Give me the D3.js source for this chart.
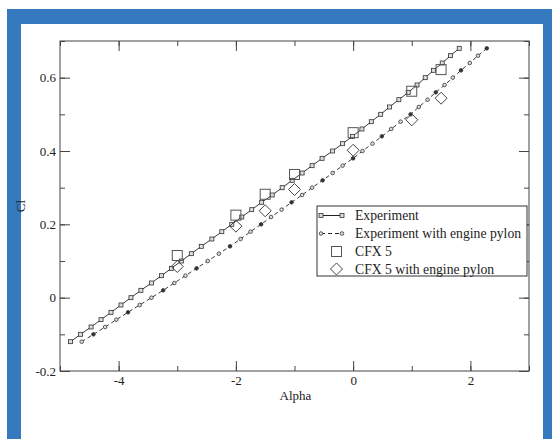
<!DOCTYPE html>
<html>
<head>
<meta charset="utf-8">
<script src="https://cdn.jsdelivr.net/npm/d3@7"></script>
<style>
  body { margin: 0; background: #fff; }
  svg text { font-family: "Liberation Serif", "Times New Roman", serif; fill: #222; }
</style>
</head>
<body>
<svg width="552" height="439"></svg>
<script>
// Experiment (clean wing): Cl read at each marker, with alpha
var expCl = [-0.12, -0.10, -0.08, -0.06, -0.04, -0.02, 0.00, 0.02, 0.04, 0.06, 0.08,
    0.10, 0.12, 0.14, 0.16, 0.18, 0.20, 0.22, 0.24, 0.26, 0.28, 0.30, 0.32, 0.34,
    0.36, 0.38, 0.40, 0.42, 0.44, 0.46, 0.48, 0.50, 0.52, 0.54, 0.56, 0.58, 0.60,
    0.62, 0.64, 0.66, 0.68];
var expAlpha = [-4.82, -4.65, -4.47, -4.30, -4.13, -3.96, -3.79, -3.62, -3.44, -3.27, -3.10,
    -2.93, -2.76, -2.59, -2.41, -2.24, -2.07, -1.90, -1.73, -1.56, -1.38, -1.21, -1.04, -0.87,
    -0.70, -0.53, -0.35, -0.18, -0.01, 0.15, 0.31, 0.47, 0.62, 0.78, 0.94, 1.09, 1.23,
    1.37, 1.52, 1.66, 1.81];

// Experiment with engine pylon
var pylCl = expCl.slice();
var pylAlpha = [-4.63, -4.43, -4.23, -4.04, -3.84, -3.64, -3.44, -3.24, -3.05, -2.86, -2.67,
    -2.48, -2.29, -2.10, -1.92, -1.75, -1.57, -1.40, -1.22, -1.05, -0.87, -0.70, -0.52, -0.35,
    -0.18, 0.00, 0.16, 0.33, 0.49, 0.65, 0.81, 0.98, 1.12, 1.27, 1.41, 1.56, 1.70,
    1.84, 1.99, 2.13, 2.28];

// CFX 5 results
var cfxAlpha = [-3, -2, -1.5, -1, 0, 1, 1.5];
var cfxCl = [0.115, 0.225, 0.282, 0.336, 0.450, 0.563, 0.622];
var cfxPylCl = [0.085, 0.195, 0.237, 0.295, 0.402, 0.485, 0.544];

var xMajor = [-4, -2, 0, 2];
var yMajor = [-0.2, 0, 0.2, 0.4, 0.6];
var legendLabels = ['Experiment', 'Experiment with engine pylon', 'CFX 5', 'CFX 5 with engine pylon'];

var svg = d3.select('svg');

// blue frame round the figure
svg.append('rect').attr('x', 7).attr('y', 9).attr('width', 560).attr('height', 440)
    .attr('fill', '#3579bf');
svg.append('rect').attr('x', 21).attr('y', 24).attr('width', 522).attr('height', 430)
    .attr('fill', '#fff');

var padding = {t: 41, r: 23, b: 68, l: 60};
var chartWidth = 552 - padding.l - padding.r;
var chartHeight = 439 - padding.t - padding.b;

var chartG = svg.append('g')
    .attr('transform', 'translate(' + [padding.l, padding.t] + ')');

var xScale = d3.scaleLinear().domain([-5, 3]).range([0, chartWidth]);
var yScale = d3.scaleLinear().domain([-0.2, 0.7]).range([chartHeight, 0]);

var xMinor = d3.range(-5, 3.01, 1);
var yMinor = d3.range(-0.2, 0.71, 0.1);

function styleAxis(g) {
    g.select('.domain').remove();
    g.selectAll('line').attr('stroke', '#444');
    g.selectAll('text').attr('font-size', 13).attr('fill', '#222')
        .attr('font-family', '"Liberation Serif", serif');
}

// bottom axis, ticks pointing inward
chartG.append('g').attr('transform', 'translate(0,' + chartHeight + ')')
    .call(d3.axisBottom(xScale).tickValues(xMinor).tickSize(-5).tickFormat(''))
    .call(styleAxis);
chartG.append('g').attr('transform', 'translate(0,' + chartHeight + ')')
    .call(d3.axisBottom(xScale).tickValues(xMajor).tickSize(-10).tickPadding(5)
        .tickFormat(function(d) { return String(d); }))
    .call(styleAxis);
// top axis
chartG.append('g')
    .call(d3.axisTop(xScale).tickValues(xMinor).tickSize(-5).tickFormat(''))
    .call(styleAxis);
chartG.append('g')
    .call(d3.axisTop(xScale).tickValues(xMajor).tickSize(-10).tickFormat(''))
    .call(styleAxis);
// left axis
chartG.append('g')
    .call(d3.axisLeft(yScale).tickValues(yMinor).tickSize(-5).tickFormat(''))
    .call(styleAxis);
chartG.append('g')
    .call(d3.axisLeft(yScale).tickValues(yMajor).tickSize(-10).tickPadding(4)
        .tickFormat(function(d) { return d === 0 ? '0' : d.toFixed(1); }))
    .call(styleAxis);
// right axis
chartG.append('g').attr('transform', 'translate(' + chartWidth + ',0)')
    .call(d3.axisRight(yScale).tickValues(yMinor).tickSize(-5).tickFormat(''))
    .call(styleAxis);
chartG.append('g').attr('transform', 'translate(' + chartWidth + ',0)')
    .call(d3.axisRight(yScale).tickValues(yMajor).tickSize(-10).tickFormat(''))
    .call(styleAxis);

// frame
chartG.append('rect').attr('width', chartWidth).attr('height', chartHeight)
    .attr('fill', 'none').attr('stroke', '#444').attr('stroke-width', 1);

// axis titles
chartG.append('text')
    .attr('x', chartWidth / 2 + 1).attr('y', chartHeight + 29)
    .attr('text-anchor', 'middle').attr('font-size', 13)
    .text('Alpha');
chartG.append('text')
    .attr('transform', 'translate(' + [-35, yScale(0.25)] + ') rotate(-90)')
    .attr('text-anchor', 'middle').attr('font-size', 13)
    .text('Cl');

var line = d3.line()
    .x(function(d) { return xScale(d[0]); })
    .y(function(d) { return yScale(d[1]); });

var expData = expAlpha.map(function(a, i) { return [a, expCl[i]]; });
var pylData = pylAlpha.map(function(a, i) { return [a, pylCl[i]]; });

chartG.append('path').datum(expData).attr('d', line)
    .attr('fill', 'none').attr('stroke', '#222').attr('stroke-width', 0.9);
chartG.append('path').datum(pylData).attr('d', line)
    .attr('fill', 'none').attr('stroke', '#222').attr('stroke-width', 0.9)
    .attr('stroke-dasharray', '4,3');

chartG.selectAll('.expDot').data(expData).enter().append('rect')
    .attr('class', 'expDot')
    .attr('x', function(d) { return xScale(d[0]) - 2; })
    .attr('y', function(d) { return yScale(d[1]) - 2; })
    .attr('width', 4).attr('height', 4)
    .attr('fill', '#ddd').attr('stroke', '#333').attr('stroke-width', 0.8);

chartG.selectAll('.pylDot').data(pylData).enter().append('circle')
    .attr('class', 'pylDot')
    .attr('cx', function(d) { return xScale(d[0]); })
    .attr('cy', function(d) { return yScale(d[1]); })
    .attr('r', 1.8)
    .attr('fill', function(d, i) { return i % 3 === 1 ? '#333' : '#ddd'; })
    .attr('stroke', '#333').attr('stroke-width', 0.8);

// CFX symbols
function diamond(cx, cy, r) {
    return 'M' + cx + ',' + (cy - r) + 'L' + (cx + r) + ',' + cy +
        'L' + cx + ',' + (cy + r) + 'L' + (cx - r) + ',' + cy + 'Z';
}
chartG.selectAll('.cfx').data(cfxAlpha).enter().append('rect')
    .attr('class', 'cfx')
    .attr('x', function(d) { return xScale(d) - 5; })
    .attr('y', function(d, i) { return yScale(cfxCl[i]) - 5; })
    .attr('width', 10).attr('height', 10)
    .attr('fill', 'none').attr('stroke', '#555').attr('stroke-width', 1);
chartG.selectAll('.cfxPyl').data(cfxAlpha).enter().append('path')
    .attr('class', 'cfxPyl')
    .attr('d', function(d, i) { return diamond(xScale(d), yScale(cfxPylCl[i]), 6); })
    .attr('fill', 'none').attr('stroke', '#444').attr('stroke-width', 1);

// legend
var legG = svg.append('g').attr('transform', 'translate(317,206)');
legG.append('rect').attr('width', 210).attr('height', 70)
    .attr('fill', '#fff').attr('stroke', '#333').attr('stroke-width', 1);
var rowY = [9.5, 27.5, 45.5, 63];
legendLabels.forEach(function(lab, i) {
    legG.append('text').attr('x', 38).attr('y', rowY[i] + 4.5)
        .attr('font-size', 13.7).text(lab);
});
legG.append('line').attr('x1', 4).attr('x2', 25).attr('y1', rowY[0]).attr('y2', rowY[0])
    .attr('stroke', '#222');
[4, 25].forEach(function(x) {
    legG.append('rect').attr('x', x - 2).attr('y', rowY[0] - 2).attr('width', 4).attr('height', 4)
        .attr('fill', '#ddd').attr('stroke', '#333').attr('stroke-width', 0.8);
});
legG.append('line').attr('x1', 4).attr('x2', 25).attr('y1', rowY[1]).attr('y2', rowY[1])
    .attr('stroke', '#222').attr('stroke-dasharray', '4,3');
[4, 25].forEach(function(x) {
    legG.append('circle').attr('cx', x).attr('cy', rowY[1]).attr('r', 1.8)
        .attr('fill', '#ddd').attr('stroke', '#333').attr('stroke-width', 0.8);
});
legG.append('rect').attr('x', 14.5).attr('y', rowY[2] - 5).attr('width', 10).attr('height', 10)
    .attr('fill', 'none').attr('stroke', '#555');
legG.append('path').attr('d', diamond(19.5, rowY[3], 6))
    .attr('fill', 'none').attr('stroke', '#444');
</script>
</body>
</html>
